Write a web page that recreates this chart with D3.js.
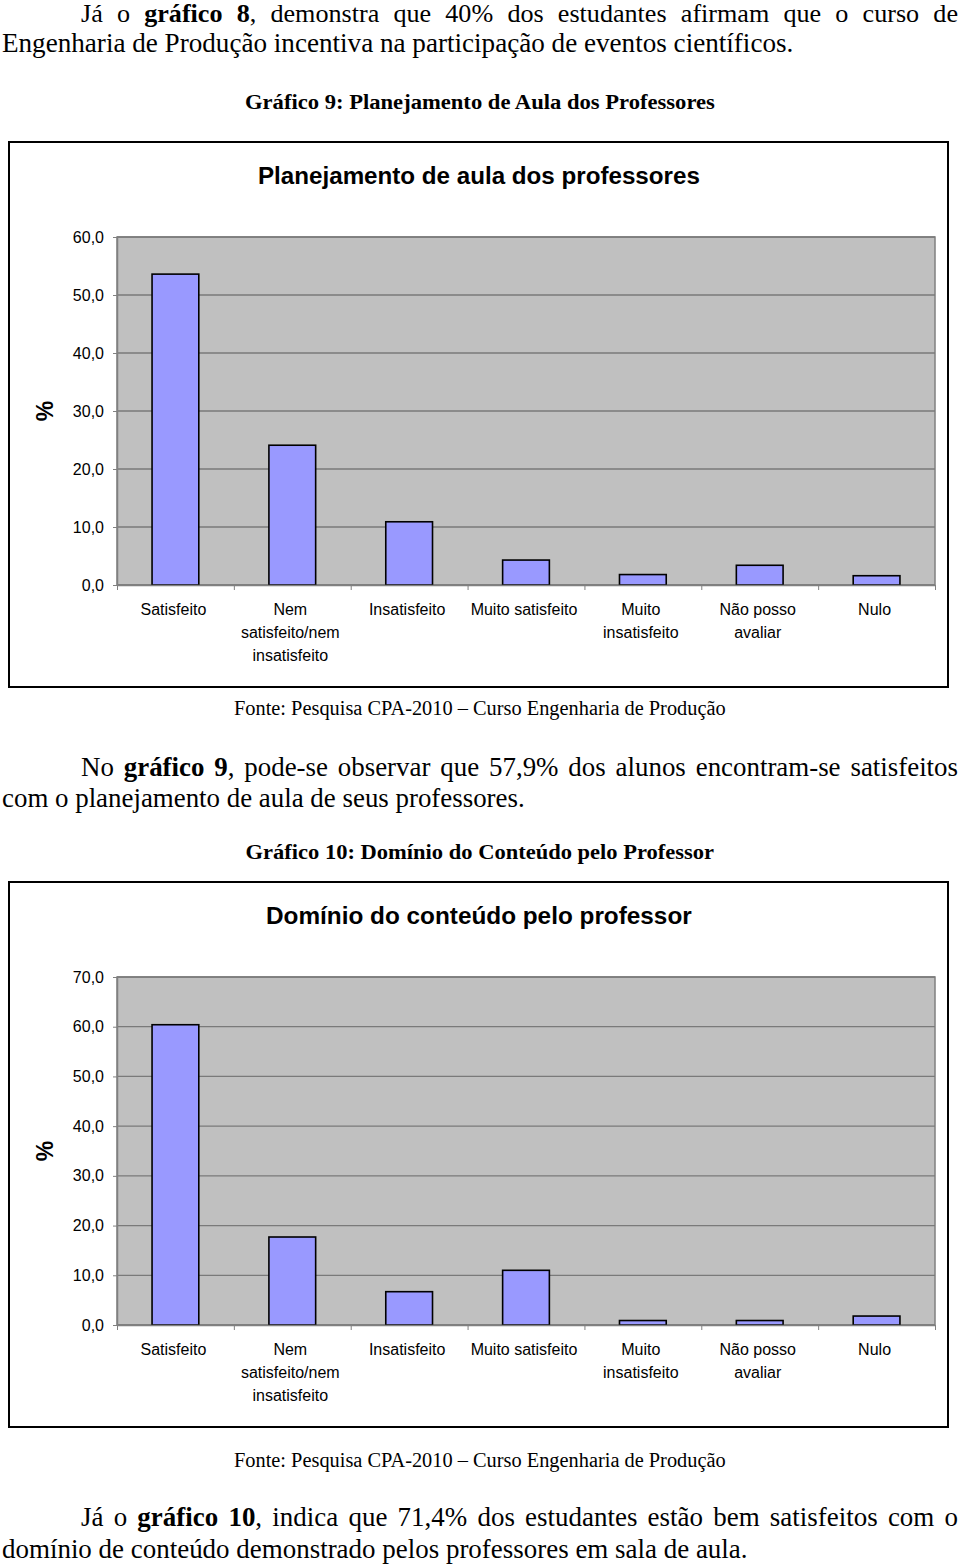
<!DOCTYPE html>
<html>
<head>
<meta charset="utf-8">
<script src="https://cdn.jsdelivr.net/npm/d3@7"></script>
<style>
  body { margin: 0; background: #fff; }
  svg { display: block; }
</style>
</head>
<body>
<div id="page"></div>
<script>
// categories (label lines) shared by both charts
var categoryLines = [
  ["Satisfeito"],
  ["Nem", "satisfeito/nem", "insatisfeito"],
  ["Insatisfeito"],
  ["Muito satisfeito"],
  ["Muito", "insatisfeito"],
  ["Não posso", "avaliar"],
  ["Nulo"]
];
var categories = categoryLines.map(function(l) { return l.join(" "); });

// Gráfico 9
var planejamentoValues = [53.6, 24.1, 10.9, 4.3, 1.8, 3.4, 1.6];
var planejamentoTicks = [0, 10, 20, 30, 40, 50, 60];

// Gráfico 10
var dominioValues = [60.4, 17.7, 6.7, 11.0, 0.9, 0.9, 1.8];
var dominioTicks = [0, 10, 20, 30, 40, 50, 60, 70];

var W = 960, H = 1565;
var svg = d3.select("#page").append("svg")
  .attr("width", W)
  .attr("height", H);

var serif = "'Liberation Serif', 'Times New Roman', serif";
var sans = "'Liberation Sans', Arial, sans-serif";
var fmt = d3.formatLocale({decimal: ",", thousands: ".", grouping: [3], currency: ["", ""]}).format(".1f");

// single serif line, scaled horizontally to a given width; returns the scale used
function fitLine(parts, x, y, width, size, anchor) {
  var t = svg.append("text")
    .attr("font-family", serif)
    .attr("font-size", size)
    .attr("fill", "#000");
  parts.forEach(function(p) {
    t.append("tspan")
      .attr("font-weight", p.b ? "bold" : "normal")
      .text(p.t);
  });
  var len = t.node().getComputedTextLength();
  var sx = width / len;
  var x0 = anchor === "middle" ? x - width / 2 : x;
  t.attr("transform", "translate(" + x0 + "," + y + ") scale(" + sx + ",1)");
  return sx;
}

// split parts into words; a piece that follows a part with no space between is glued on
function splitWords(parts) {
  var groups = [];
  var prevEndsSpace = true;
  parts.forEach(function(p) {
    var pieces = p.t.split(" ");
    pieces.forEach(function(w, i) {
      if (w === "") return;
      var glue = i === 0 && !prevEndsSpace && groups.length;
      if (glue) groups[groups.length - 1].push({t: w, b: p.b});
      else groups.push([{t: w, b: p.b}]);
    });
    prevEndsSpace = p.t[p.t.length - 1] === " ";
  });
  return groups;
}

// justified line: glyphs scaled by sx, gaps stretched to fill the width
function justify(parts, x, y, width, size, sx) {
  var groups = splitWords(parts);
  var g = svg.append("g")
    .attr("transform", "translate(" + x + "," + y + ") scale(" + sx + ",1)");
  var nodes = groups.map(function(grp) {
    var t = g.append("text")
      .attr("font-family", serif)
      .attr("font-size", size)
      .attr("fill", "#000");
    grp.forEach(function(w) {
      t.append("tspan").attr("font-weight", w.b ? "bold" : "normal").text(w.t);
    });
    return t;
  });
  var widths = nodes.map(function(n) { return n.node().getComputedTextLength(); });
  var gap = (width / sx - d3.sum(widths)) / (nodes.length - 1);
  var cx = 0;
  nodes.forEach(function(n, i) {
    n.attr("x", cx);
    cx += widths[i] + gap;
  });
}

function fitSans(txt, cx, y, width, size, weight) {
  var t = svg.append("text")
    .attr("font-family", sans)
    .attr("font-size", size)
    .attr("font-weight", weight)
    .attr("fill", "#000")
    .text(txt);
  var len = t.node().getComputedTextLength();
  t.attr("transform", "translate(" + (cx - width / 2) + "," + y + ") scale(" + (width / len) + ",1)");
}

var bodySize = 27;

// body text
var s1 = fitLine([{t: "Engenharia de Produção incentiva na participação de eventos científicos."}], 2, 52, 792, bodySize);
justify([{t: "Já o "}, {t: "gráfico 8", b: true}, {t: ", demonstra que 40% dos estudantes afirmam que o curso de"}], 81, 22, 877, 26, s1);
fitLine([{t: "Gráfico 9: Planejamento de Aula dos Professores", b: true}], 480, 109, 470, 22, "middle");

fitLine([{t: "Fonte: Pesquisa CPA-2010 – Curso Engenharia de Produção"}], 480, 715, 492, 20, "middle");
var s2 = fitLine([{t: "com o planejamento de aula de seus professores."}], 2, 807, 523, bodySize);
justify([{t: "No "}, {t: "gráfico 9", b: true}, {t: ", pode-se observar que 57,9% dos alunos encontram-se satisfeitos"}], 81, 776, 877, bodySize, s2);
fitLine([{t: "Gráfico 10: Domínio do Conteúdo pelo Professor", b: true}], 480, 859, 469, 22, "middle");

fitLine([{t: "Fonte: Pesquisa CPA-2010 – Curso Engenharia de Produção"}], 480, 1467, 492, 20, "middle");
var s3 = fitLine([{t: "domínio de conteúdo demonstrado pelos professores em sala de aula."}], 2, 1558, 746, bodySize);
justify([{t: "Já o "}, {t: "gráfico 10", b: true}, {t: ", indica que 71,4% dos estudantes estão bem satisfeitos com o"}], 81, 1526, 877, bodySize, s3);

function drawChart(opt) {
  // outer frame
  svg.append("rect")
    .attr("x", 9).attr("y", opt.boxTop)
    .attr("width", 939).attr("height", 545)
    .attr("fill", "#fff")
    .attr("stroke", "#000")
    .attr("stroke-width", 2);

  fitSans(opt.title, 479, opt.boxTop + 42, opt.titleWidth, 24, "bold");

  var left = 117, right = 935;
  var top = opt.plotTop, bottom = opt.plotTop + 348;

  var y = d3.scaleLinear()
    .domain([0, d3.max(opt.ticks)])
    .range([bottom, top]);
  var x = d3.scaleBand()
    .domain(categories)
    .range([left, right])
    .padding(0);
  var xb = d3.scaleLinear().domain([0, categories.length]).range([left, right]);

  var g = svg.append("g");

  g.append("rect")
    .attr("x", left).attr("y", top)
    .attr("width", right - left).attr("height", bottom - top)
    .attr("fill", "#c0c0c0")
    .attr("stroke", "#808080")
    .attr("stroke-width", 1.5);

  // gridlines
  g.selectAll(".grid")
    .data(opt.ticks)
    .enter().append("line")
    .attr("x1", left).attr("x2", right)
    .attr("y1", function(d) { return y(d); })
    .attr("y2", function(d) { return y(d); })
    .attr("stroke", "#7a7a7a")
    .attr("stroke-width", 1.3);

  // bars
  var bw = x.bandwidth() * 0.4;
  g.selectAll(".bar")
    .data(opt.values)
    .enter().append("rect")
    .attr("class", "bar")
    .attr("x", function(d, i) { return x(categories[i]) + (x.bandwidth() - bw) / 2; })
    .attr("y", function(d) { return y(d); })
    .attr("width", bw)
    .attr("height", function(d) { return bottom - y(d); })
    .attr("fill", "#9999ff")
    .attr("stroke", "#000")
    .attr("stroke-width", 1.6);

  // y axis
  var ya = g.append("g")
    .attr("transform", "translate(" + left + ",0)")
    .call(d3.axisLeft(y).tickValues(opt.ticks).tickFormat(fmt).tickSizeInner(4).tickSizeOuter(0).tickPadding(9));
  ya.select(".domain").attr("stroke", "#808080").attr("stroke-width", 1.5);
  ya.selectAll(".tick line").attr("stroke", "#808080");
  ya.selectAll(".tick text")
    .attr("font-family", sans)
    .attr("font-size", 16)
    .attr("fill", "#000");

  // x axis ticks at category boundaries
  var xa = g.append("g")
    .attr("transform", "translate(0," + bottom + ")")
    .call(d3.axisBottom(xb).tickValues(d3.range(categories.length + 1)).tickFormat("").tickSizeInner(5).tickSizeOuter(0));
  xa.select(".domain").attr("stroke", "#808080").attr("stroke-width", 1.5);
  xa.selectAll(".tick line").attr("stroke", "#808080");

  // category labels
  var lab = g.selectAll(".xlab")
    .data(categoryLines)
    .enter().append("text")
    .attr("text-anchor", "middle")
    .attr("font-family", sans)
    .attr("font-size", 16)
    .attr("fill", "#000")
    .attr("transform", function(d, i) { return "translate(" + (x(categories[i]) + x.bandwidth() / 2 - 2) + "," + (bottom + 30) + ")"; });
  lab.selectAll("tspan")
    .data(function(d) { return d; })
    .enter().append("tspan")
    .attr("x", 0)
    .attr("y", function(d, i) { return i * 23; })
    .text(function(d) { return d; });

  // y title
  svg.append("text")
    .attr("transform", "translate(53," + (top + (bottom - top) / 2) + ") rotate(-90)")
    .attr("text-anchor", "middle")
    .attr("font-family", sans)
    .attr("font-size", 23)
    .attr("font-weight", "bold")
    .text("%");
}

drawChart({
  boxTop: 142,
  plotTop: 237,
  title: "Planejamento de aula dos professores",
  titleWidth: 442,
  values: planejamentoValues,
  ticks: planejamentoTicks
});

drawChart({
  boxTop: 882,
  plotTop: 977,
  title: "Domínio do conteúdo pelo professor",
  titleWidth: 426,
  values: dominioValues,
  ticks: dominioTicks
});
</script>
</body>
</html>
